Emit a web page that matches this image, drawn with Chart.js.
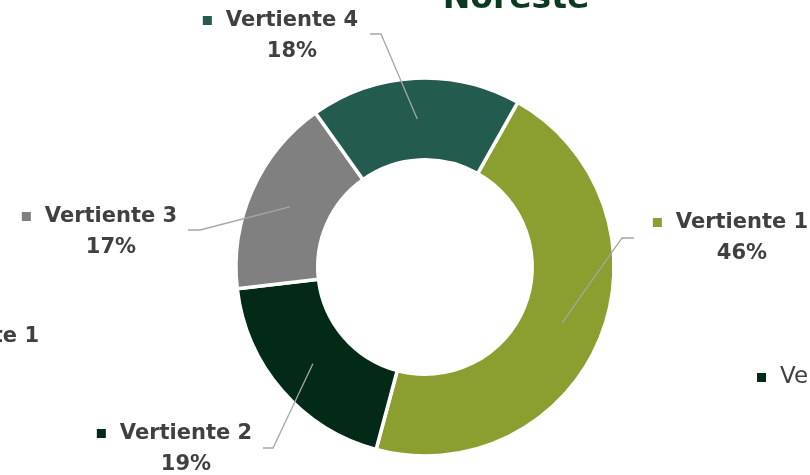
<!DOCTYPE html>
<html>
<head>
<meta charset="utf-8">
<script src="https://cdn.jsdelivr.net/npm/chart.js@4/dist/chart.umd.min.js"></script>
<style>
html,body{margin:0;padding:0;background:#fff;}
#wrap{position:relative;width:810px;height:475px;}
</style>
</head>
<body>
<div id="wrap"><canvas id="c" width="810" height="475"></canvas></div>
<script>
const title = 'Noreste';
const categories = ['Vertiente 1', 'Vertiente 2', 'Vertiente 3', 'Vertiente 4'];
const shares = [46, 19, 17, 18];
const sliceColors = ['#8A9F2F', '#032917', '#808080', '#235B4E'];

// label layout (offsets from doughnut centre, pixels)
const labelLayout = [
  {elbow: [197, -29], end: [209, -29], text: [317, -44]},
  {elbow: [-152, 181], end: [-162, 181], text: [-239, 167]},
  {elbow: [-225, -37], end: [-237, -37], text: [-314, -50]},
  {elbow: [-44, -233], end: [-55, -233], text: [-133, -246]}
];

const FONT = 'DejaVu Sans';
const TEXT = '#404040';

const labelPlugin = {
  id: 'labels',
  afterDraw(chart) {
    const ctx = chart.ctx;
    const meta = chart.getDatasetMeta(0);
    const ds = chart.data.datasets[0];
    const arc0 = meta.data[0];
    const cx = arc0.x, cy = arc0.y;
    ctx.save();
    meta.data.forEach((arc, i) => {
      const L = labelLayout[i];
      const p = arc.tooltipPosition();
      ctx.strokeStyle = '#A6A6A6';
      ctx.lineWidth = 1.3;
      ctx.beginPath();
      ctx.moveTo(p.x, p.y);
      ctx.lineTo(cx + L.elbow[0], cy + L.elbow[1]);
      ctx.lineTo(cx + L.end[0], cy + L.end[1]);
      ctx.stroke();
      const tx = cx + L.text[0], ty = cy + L.text[1];
      ctx.font = 'bold 21px "' + FONT + '"';
      ctx.fillStyle = TEXT;
      ctx.textAlign = 'center';
      ctx.textBaseline = 'middle';
      const name = chart.data.labels[i];
      ctx.fillText(name, tx, ty);
      const w = ctx.measureText(name).width;
      ctx.fillStyle = ds.backgroundColor[i];
      ctx.fillRect(tx - w / 2 - 23, ty - 5, 9, 9);
      ctx.fillStyle = TEXT;
      ctx.fillText(ds.data[i] + '%', tx, ty + 31);
    });
    // title (mostly above the frame)
    ctx.font = 'bold 33px "' + FONT + '"';
    ctx.fillStyle = '#0B3A22';
    ctx.textAlign = 'center';
    ctx.textBaseline = 'alphabetic';
    ctx.fillText(title, 516, 8);
    // fragments of neighbouring charts
    ctx.font = 'bold 21px "' + FONT + '"';
    ctx.fillStyle = TEXT;
    ctx.textAlign = 'right';
    ctx.textBaseline = 'middle';
    ctx.fillText(categories[0], 39, 337);
    ctx.font = '23px "' + FONT + '"';
    ctx.textAlign = 'left';
    ctx.fillText(categories[0], 780, 377);
    ctx.fillStyle = sliceColors[1];
    ctx.fillRect(757, 373, 9, 9);
    ctx.restore();
  }
};

new Chart(document.getElementById('c'), {
  type: 'doughnut',
  data: {
    labels: categories,
    datasets: [{
      data: shares,
      backgroundColor: sliceColors,
      borderColor: '#ffffff',
      borderWidth: 3.5,
      hoverOffset: 0
    }]
  },
  options: {
    responsive: false,
    animation: false,
    rotation: 29.4,
    radius: 189,
    cutout: 117,
    layout: {padding: {left: 40, right: 0, top: 59, bottom: 0}},
    plugins: {legend: {display: false}, tooltip: {enabled: false}, title: {display: false}}
  },
  plugins: [labelPlugin]
});
</script>
</body>
</html>
